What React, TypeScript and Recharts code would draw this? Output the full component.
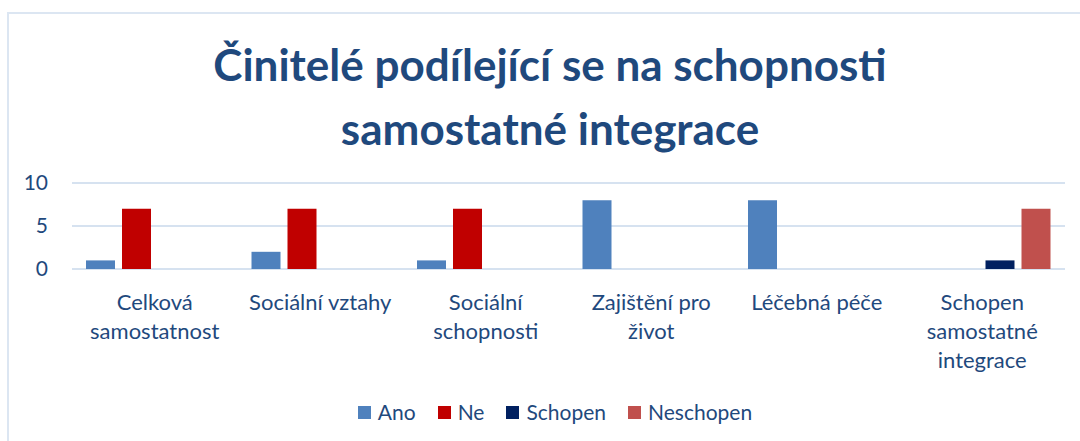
import { BarChart, Bar, XAxis, YAxis, CartesianGrid } from 'recharts';

const categories = [
  'Celková samostatnost',
  'Sociální vztahy',
  'Sociální schopnosti',
  'Zajištění pro život',
  'Léčebná péče',
  'Schopen samostatné integrace',
];
// how the category labels break into lines under the axis
const tickLines = [
  ['Celková', 'samostatnost'],
  ['Sociální vztahy'],
  ['Sociální', 'schopnosti'],
  ['Zajištění pro', 'život'],
  ['Léčebná péče'],
  ['Schopen', 'samostatné', 'integrace'],
];
const ano = [1, 2, 1, 8, 8, 0];
const ne = [7, 7, 7, 0, 0, 0];
const schopen = [0, 0, 0, 0, 0, 1];
const neschopen = [0, 0, 0, 0, 0, 7];
const yTicks = [0, 5, 10];

const series = [
  { key: 'Ano', color: '#4F81BD' },
  { key: 'Ne', color: '#C00000' },
  { key: 'Schopen', color: '#002060' },
  { key: 'Neschopen', color: '#C0504D' },
];

const TEXT = '#1F497D';
const FONT = 'Lato, "Open Sans", sans-serif';

const data = categories.map((name, i) => ({
  name,
  Ano: ano[i],
  Ne: ne[i],
  Schopen: schopen[i],
  Neschopen: neschopen[i],
}));

function CatTick({ x, y, index }: { x?: number; y?: number; index?: number }) {
  const lines = tickLines[index ?? 0] ?? [];
  return (
    <text x={x} y={(y ?? 0) + 39} textAnchor="middle" fill={TEXT} fontSize={22} fontFamily={FONT}>
      {lines.map((l, i) => (
        <tspan key={i} x={x} dy={i === 0 ? 0 : 29}>{l}</tspan>
      ))}
    </text>
  );
}

export default function App() {
  return (
    <div style={{ position: 'absolute', left: 0, top: 0, width: 1080, height: 441, background: '#fff', overflow: 'hidden', fontFamily: FONT }}>
      <div style={{ position: 'absolute', left: 7, top: 12, width: 1100, height: 440, borderLeft: '2px solid #DCE6F2', borderTop: '2px solid #DCE6F2' }} />
      <div style={{ position: 'absolute', left: 0, top: 32, width: 1100, textAlign: 'center', color: TEXT, fontSize: 44, fontWeight: 700, lineHeight: '64px' }}>
        Činitelé podílející se na schopnosti<br />samostatné integrace
      </div>
      <BarChart
        width={1080}
        height={441}
        data={data}
        margin={{ top: 183, right: 15, bottom: 0, left: 0 }}
        barSize={29}
        barGap={7}
        style={{ position: 'absolute', left: 0, top: 0 }}
      >
        <CartesianGrid vertical={false} stroke="#D6E2F0" strokeWidth={2} />
        <YAxis
          domain={[0, 10]}
          ticks={yTicks}
          width={72}
          axisLine={false}
          tickLine={false}
          tickSize={0}
          tickMargin={24}
          tick={{ fill: TEXT, fontSize: 21, fontFamily: FONT }}
        />
        <XAxis
          dataKey="name"
          height={172}
          axisLine={false}
          tickLine={false}
          tickSize={0}
          interval={0}
          tick={<CatTick />}
        />
        {series.map((s) => (
          <Bar key={s.key} dataKey={s.key} fill={s.color} isAnimationActive={false} />
        ))}
      </BarChart>
      <div style={{ position: 'absolute', left: 0, top: 398, width: 1110, display: 'flex', justifyContent: 'center', alignItems: 'center', gap: 22, color: TEXT, fontSize: 21, lineHeight: '28px' }}>
        {series.map((s) => (
          <div key={s.key} style={{ display: 'flex', alignItems: 'center', gap: 7 }}>
            <span style={{ width: 13, height: 13, background: s.color, display: 'inline-block' }} />
            <span>{s.key}</span>
          </div>
        ))}
      </div>
    </div>
  );
}
